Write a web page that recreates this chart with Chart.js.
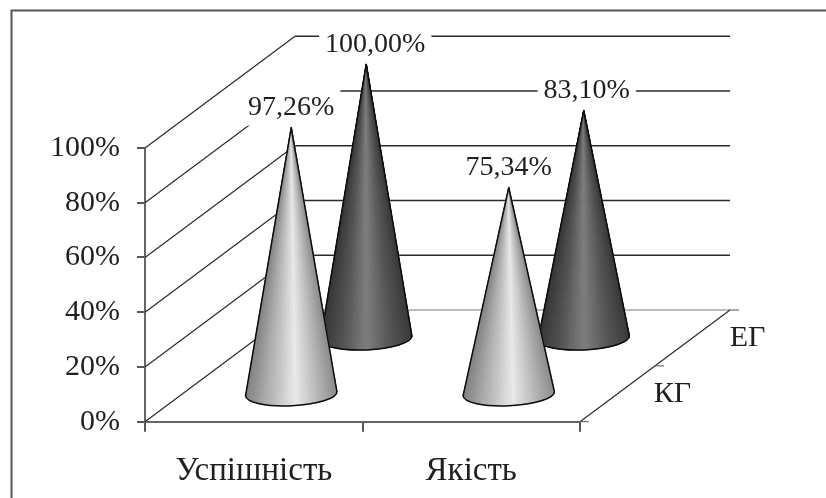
<!DOCTYPE html>
<html>
<head>
<meta charset="utf-8">
<style>
  html, body { margin: 0; padding: 0; background: #fff; }
  canvas { display: block; }
</style>
<script src="https://cdn.jsdelivr.net/npm/chart.js@4/dist/chart.umd.min.js"></script>
</head>
<body>
<canvas id="cones" width="826" height="498"></canvas>
<script>
// Values
var categories = ["Успішність", "Якість"];
var seriesNames = ["КГ", "ЕГ"];
var kgValues = [97.26, 75.34];
var egValues = [100, 83.1];
var yTicks = [0, 20, 40, 60, 80, 100];

// Fake 3D: how far the back wall sits from the front plane
var depthX = 150;
var depthY = 111.7;
var coneRadius = 45.7;
var coneTilt = 12;
var serif = '"Liberation Serif", "Times New Roman", serif';
var ink = "#1f1f1f";

var shades = [
    [[0, 128], [0.2, 168], [0.55, 232], [0.72, 198], [1, 140]],
    [[0, 52], [0.25, 84], [0.5, 126], [0.72, 92], [1, 56]]
];

function shadeAt(stops, t) {
    for (var i = 1; i < stops.length; i++) {
        if (t <= stops[i][0]) {
            var a = stops[i - 1], b = stops[i];
            var v = Math.round(a[1] + (b[1] - a[1]) * (t - a[0]) / (b[0] - a[0]));
            return "rgb(" + v + "," + v + "," + v + ")";
        }
    }
    return "#888";
}

function depthOf(index) {
    return (index + 0.5) / seriesNames.length;
}

function line(ctx, x1, y1, x2, y2, color, width) {
    ctx.beginPath();
    ctx.moveTo(x1, y1);
    ctx.lineTo(x2, y2);
    ctx.strokeStyle = color;
    ctx.lineWidth = width;
    ctx.stroke();
}

function drawCone(ctx, cx, baseY, tipY, stops) {
    var rot = -0.045;
    // side surface as wedges so the shading runs into the tip
    var n = 46;
    for (var i = 0; i < n; i++) {
        var a1 = Math.PI - Math.PI * i / n;
        var a2 = Math.PI - Math.PI * (i + 1) / n;
        var x1 = coneRadius * Math.cos(a1), y1 = coneTilt * Math.sin(a1);
        var x2 = coneRadius * Math.cos(a2), y2 = coneTilt * Math.sin(a2);
        ctx.beginPath();
        ctx.moveTo(cx, tipY);
        ctx.lineTo(cx + x1 - y1 * rot, baseY + y1 + x1 * rot);
        ctx.lineTo(cx + x2 - y2 * rot, baseY + y2 + x2 * rot);
        ctx.closePath();
        var color = shadeAt(stops, (x1 + x2 + 2 * coneRadius) / (4 * coneRadius));
        ctx.fillStyle = color;
        ctx.strokeStyle = color;
        ctx.lineWidth = 1;
        ctx.fill();
        ctx.stroke();
    }
    // outline
    ctx.beginPath();
    ctx.moveTo(cx, tipY);
    ctx.lineTo(cx - coneRadius, baseY - coneRadius * rot);
    ctx.ellipse(cx, baseY, coneRadius, coneTilt, rot, Math.PI, 0, true);
    ctx.closePath();
    ctx.strokeStyle = "#0c0c0c";
    ctx.lineWidth = 1.5;
    ctx.lineJoin = "round";
    ctx.stroke();
}

var cones3d = {
    id: "cones3d",
    beforeDraw: function (chart) {
        var ctx = chart.ctx;
        // picture frame, left and top only
        ctx.save();
        ctx.beginPath();
        ctx.moveTo(11.5, 498);
        ctx.lineTo(11.5, 10.5);
        ctx.lineTo(826, 10.5);
        ctx.strokeStyle = "#555";
        ctx.lineWidth = 2;
        ctx.stroke();
        ctx.restore();
    },
    beforeDatasetsDraw: function (chart) {
        var ctx = chart.ctx, x = chart.scales.x, y = chart.scales.y;
        var left = x.left, right = x.right, y0 = y.getPixelForValue(0);
        ctx.save();
        yTicks.forEach(function (v) {
            var py = y.getPixelForValue(v);
            var faint = v === 0;
            line(ctx, left, py, left + depthX, py - depthY, "#2b2b2b", 1.2);
            line(ctx, left + depthX, py - depthY, right + depthX, py - depthY, faint ? "#777" : "#2b2b2b", faint ? 1 : 1.5);
        });
        // floor edge and depth ticks
        line(ctx, right, y0, right + depthX, y0 - depthY, "#2b2b2b", 1.2);
        for (var i = 0; i <= seriesNames.length; i++) {
            var d = i / seriesNames.length;
            line(ctx, right + depthX * d, y0 - depthY * d, right + depthX * d + 9, y0 - depthY * d, "#555", 1);
        }
        ctx.restore();
    },
    afterDatasetsDraw: function (chart) {
        var ctx = chart.ctx, x = chart.scales.x, y = chart.scales.y;
        var y0 = y.getPixelForValue(0), right = x.right;
        ctx.save();
        // back row first
        for (var s = chart.data.datasets.length - 1; s >= 0; s--) {
            var set = chart.data.datasets[s], d = depthOf(s);
            set.data.forEach(function (v, i) {
                drawCone(ctx, x.getPixelForValue(i) + depthX * d, y0 - depthY * d,
                    y.getPixelForValue(v) - depthY * d, shades[s]);
            });
        }
        // value labels sit on white boxes that cut the grid lines
        ctx.font = "28px " + serif;
        ctx.textAlign = "center";
        ctx.textBaseline = "middle";
        chart.data.datasets.forEach(function (set, s) {
            var d = depthOf(s);
            set.data.forEach(function (v, i) {
                var text = v.toFixed(2).replace(".", ",") + "%";
                var shift = s === 1 ? (i === 0 ? 9 : 3) : 0;
                var cx = x.getPixelForValue(i) + depthX * d + shift;
                var cy = y.getPixelForValue(v) - depthY * d - 20;
                var w = ctx.measureText(text).width + 12;
                ctx.fillStyle = "#fff";
                ctx.fillRect(cx - w / 2, cy - 19, w, 37);
                ctx.fillStyle = ink;
                ctx.fillText(text, cx, cy);
            });
        });
        // depth axis names
        ctx.font = "30px " + serif;
        seriesNames.forEach(function (name, s) {
            var d = depthOf(s);
            ctx.fillStyle = ink;
            ctx.fillText(name, right + depthX * d + 55, y0 - depthY * d);
        });
        ctx.restore();
    }
};

new Chart(document.getElementById("cones").getContext("2d"), {
    type: "bar",
    plugins: [cones3d],
    data: {
        labels: categories,
        datasets: [
            { label: seriesNames[0], data: kgValues, backgroundColor: "transparent" },
            { label: seriesNames[1], data: egValues, backgroundColor: "transparent" }
        ]
    },
    options: {
        responsive: false,
        animation: false,
        devicePixelRatio: 1,
        layout: { padding: { left: 0, top: 148, right: 246, bottom: 0 } },
        plugins: { legend: { display: false }, tooltip: { enabled: false } },
        scales: {
            x: {
                afterFit: function (s) { s.height = 76.3; },
                border: { color: "#666", width: 2 },
                grid: { drawOnChartArea: false, color: "#555", lineWidth: 2, tickLength: 10 },
                ticks: { color: ink, font: { family: serif, size: 33 }, padding: 20, maxRotation: 0 }
            },
            y: {
                min: 0,
                max: 100,
                afterFit: function (s) { s.width = 145; },
                afterBuildTicks: function (s) { s.ticks = yTicks.map(function (v) { return { value: v }; }); },
                border: { color: "#666", width: 2 },
                grid: { drawOnChartArea: false, color: "#555", lineWidth: 2, tickLength: 8 },
                ticks: {
                    color: ink,
                    font: { family: serif, size: 30 },
                    padding: 17,
                    callback: function (v) { return v + "%"; }
                }
            }
        }
    }
});
</script>
</body>
</html>
